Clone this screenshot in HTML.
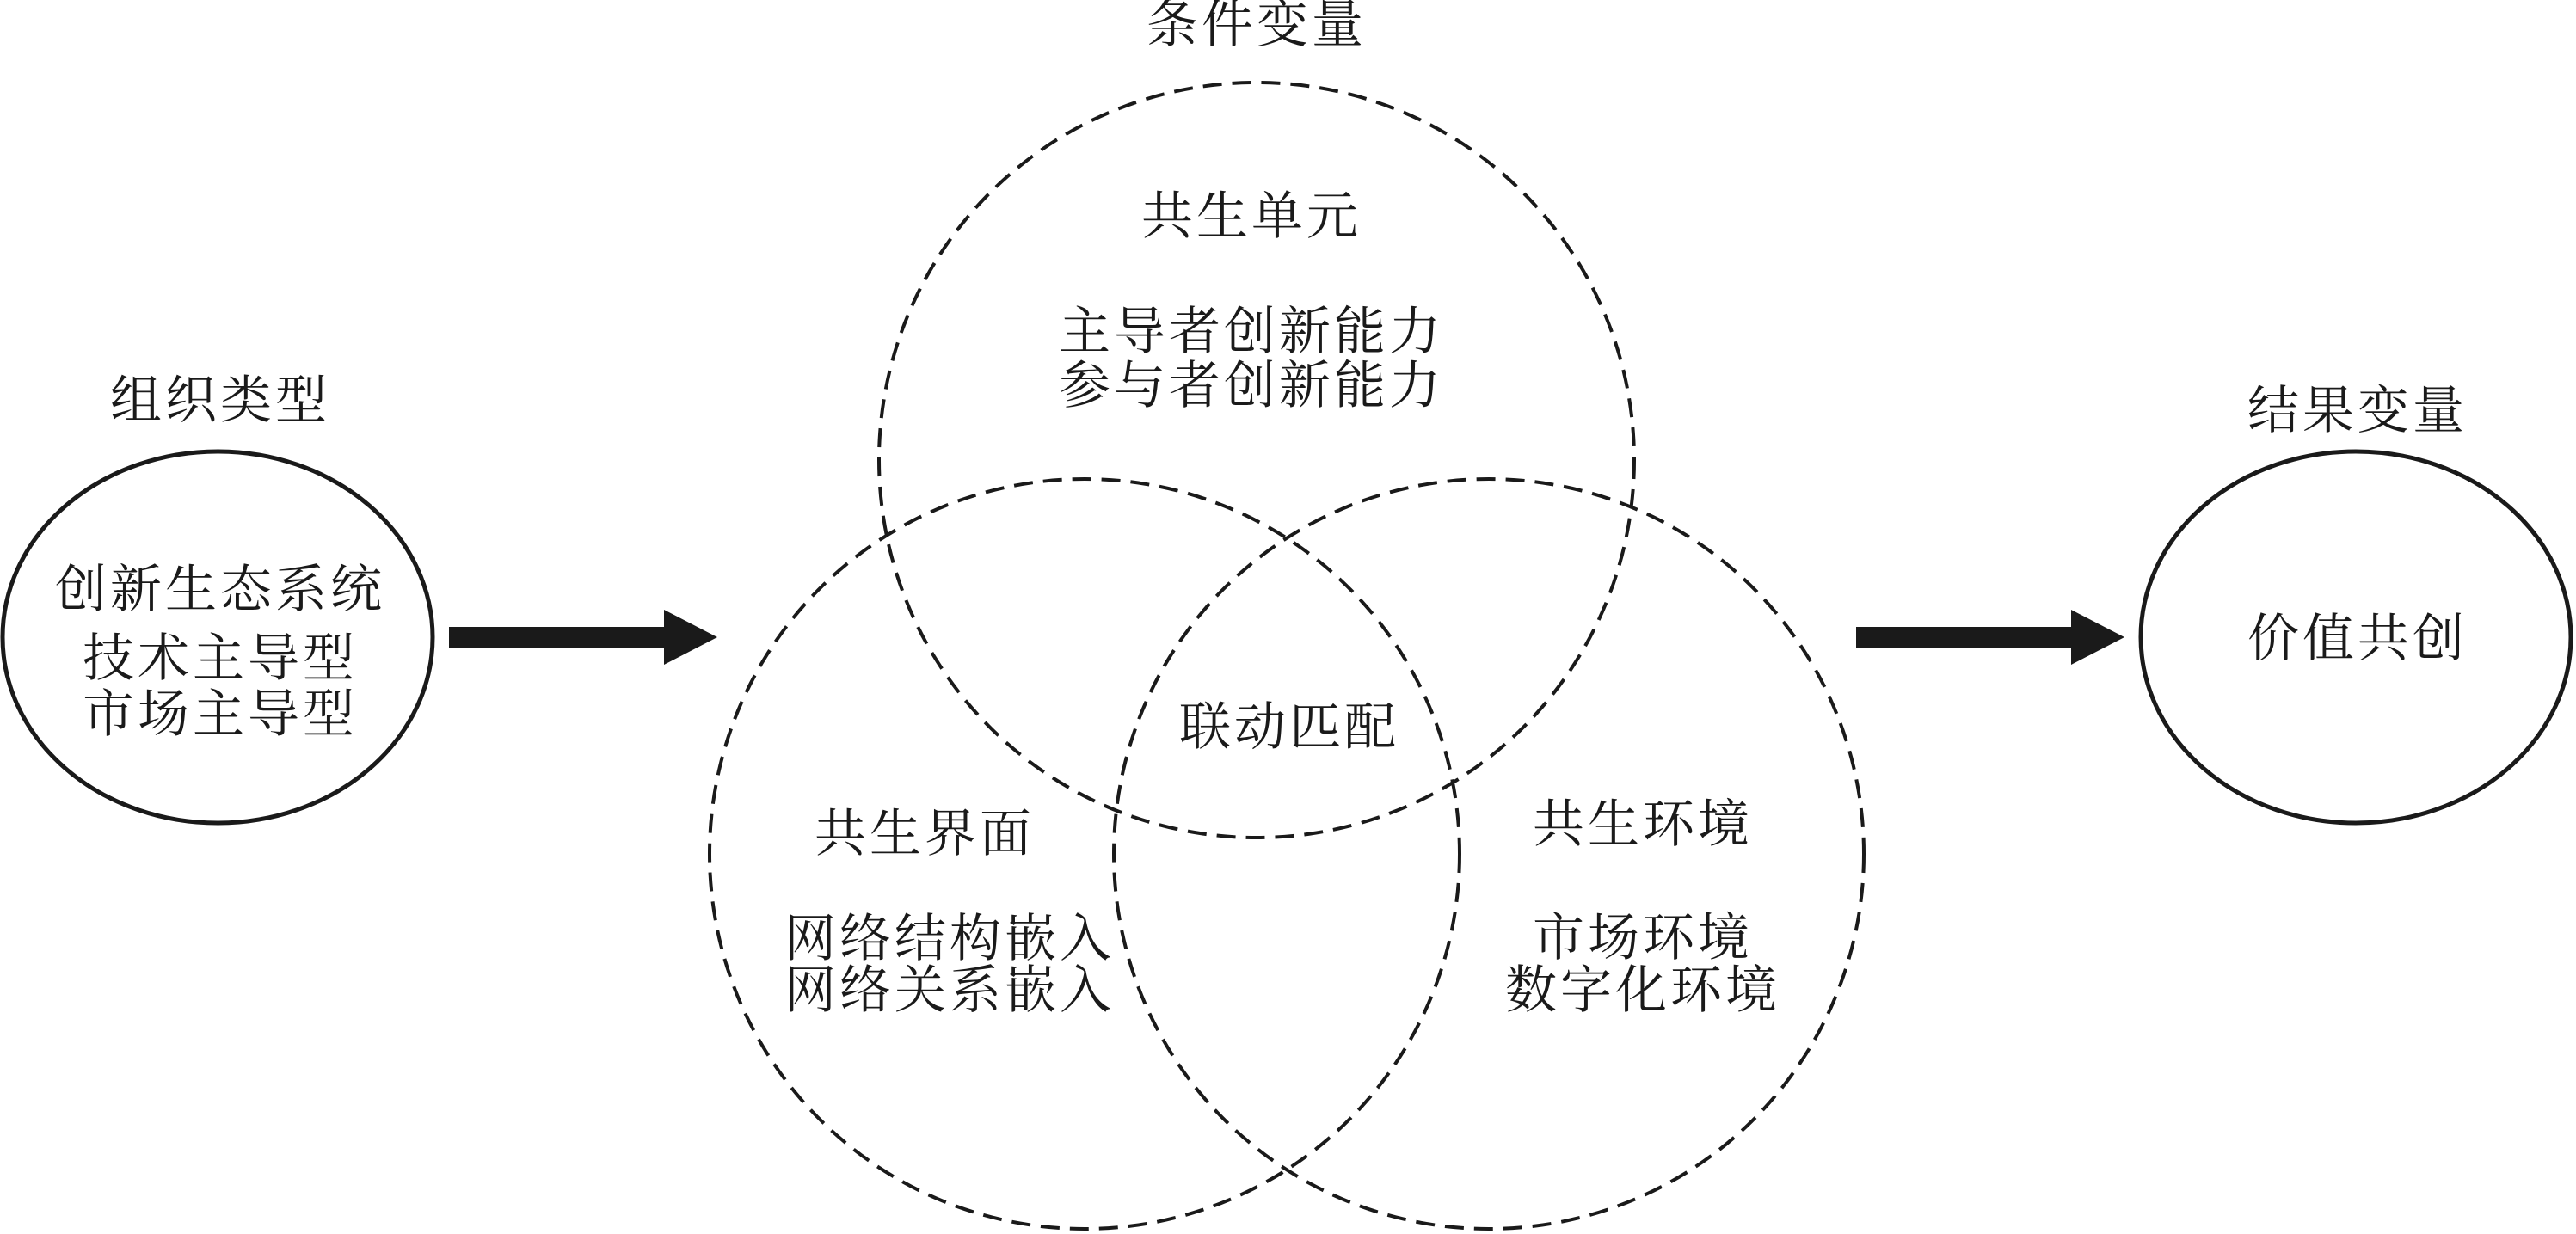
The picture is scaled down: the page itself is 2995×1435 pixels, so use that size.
<!DOCTYPE html>
<html><head><meta charset="utf-8"><style>
html,body{margin:0;padding:0;background:#fff;}
svg{display:block;}
text{font-family:"Liberation Serif","Noto Serif CJK SC",serif;font-size:60px;fill:#1a1a1a;text-anchor:middle;dominant-baseline:central;letter-spacing:4px;}
</style></head><body>
<svg width="2995" height="1435" viewBox="0 0 2995 1435" xmlns="http://www.w3.org/2000/svg">
<g fill="none" stroke="#1a1a1a" stroke-width="4" stroke-dasharray="22 12">
<circle cx="1461" cy="535" r="439"/>
<circle cx="1261" cy="993" r="436"/>
<circle cx="1731" cy="993" r="436"/>
</g>
<g fill="none" stroke="#1a1a1a" stroke-width="5">
<ellipse cx="253" cy="741" rx="250" ry="216"/>
<ellipse cx="2739" cy="741" rx="250" ry="216"/>
</g>
<g fill="#1a1a1a">
<rect x="522" y="729" width="255" height="24"/>
<polygon points="772,709 834,741 772,773"/>
<rect x="2158" y="729" width="255" height="24"/>
<polygon points="2408,709 2470,741 2408,773"/>
</g>
<text x="1461" y="29">条件变量</text>
<text x="1455" y="252">共生单元</text>
<text x="1455" y="386">主导者创新能力</text>
<text x="1455" y="449">参与者创新能力</text>
<text x="1499" y="846">联动匹配</text>
<text x="1075" y="970">共生界面</text>
<text x="1104" y="1092">网络结构嵌入</text>
<text x="1104" y="1152">网络关系嵌入</text>
<text x="1910" y="959">共生环境</text>
<text x="1910" y="1091">市场环境</text>
<text x="1910" y="1152">数字化环境</text>
<text x="256" y="466">组织类型</text>
<text x="256" y="686">创新生态系统</text>
<text x="256" y="766">技术主导型</text>
<text x="256" y="831">市场主导型</text>
<text x="2741" y="478">结果变量</text>
<text x="2741" y="743">价值共创</text>
</svg>
</body></html>
